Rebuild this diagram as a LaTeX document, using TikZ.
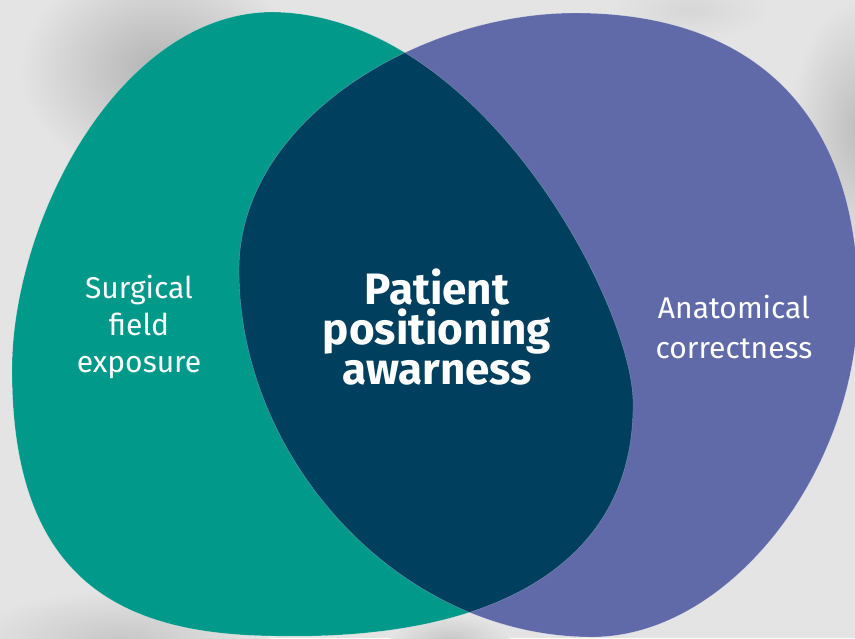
\documentclass[tikz,border=0pt]{standalone}
\usepackage{fontspec}
\setmainfont{Fira Sans}
\definecolor{bg}{HTML}{E4E4E4}
\definecolor{fieldteal}{HTML}{00998A}
\definecolor{anatblue}{HTML}{606AA8}
\definecolor{awarenavy}{HTML}{00405E}

\begin{document}
\begin{tikzpicture}[x=1pt, y=-1pt,
  side text/.style = {text=white, align=center, font=\fontsize{30}{37}\selectfont},
  main text/.style = {text=white, align=center, font=\fontsize{44}{40}\selectfont\bfseries},
  rim/.style = {draw=white, draw opacity=0.35, line width=0.4pt}]
  \fill[bg] (0,0) rectangle (855,638);
  \clip (0,0) rectangle (855,638);
  % soft shadows on the backdrop
  \shade[inner color=black!30, outer color=bg] (160,70) ellipse (140 and 110);
  \shade[inner color=black!26, outer color=bg] (860,130) ellipse (70 and 130);
  \shade[inner color=black!22, outer color=bg] (120,640) ellipse (150 and 50);
  \shade[inner color=black!22, outer color=bg] (450,640) ellipse (60 and 25);
  \shade[inner color=black!16, outer color=bg] (690,10) ellipse (80 and 30);
  \path[save path=\fieldpath] (273,12)
    .. controls (120,12) and (12,220) .. (12,370)
    .. controls (12,580) and (120,636) .. (280,636)
    .. controls (500,640) and (636,560) .. (633,400)
    .. controls (630,300) and (480,15) .. (273,12) -- cycle;
  \path[save path=\anatpath] (239,270)
    .. controls (239,120) and (420,13) .. (575,13)
    .. controls (760,13) and (858,120) .. (858,300)
    .. controls (858,470) and (730,637) .. (592,637)
    .. controls (400,637) and (239,460) .. (239,270) -- cycle;
  \fill[fieldteal, use path=\fieldpath];
  \fill[anatblue, use path=\anatpath];
  \begin{scope}
    \clip[use path=\fieldpath];
    \fill[awarenavy, use path=\anatpath];
  \end{scope}
  \path[rim, use path=\fieldpath];
  \path[rim, use path=\anatpath];
  \node[side text] (field) at (139,327) {Surgical\\field\\exposure};
  \node[main text] (aware) at (437,327) {Patient\\positioning\\awarness};
  \node[side text, font=\fontsize{30}{40}\selectfont] (anat) at (734,327) {Anatomical\\correctness};
\end{tikzpicture}
\end{document}
